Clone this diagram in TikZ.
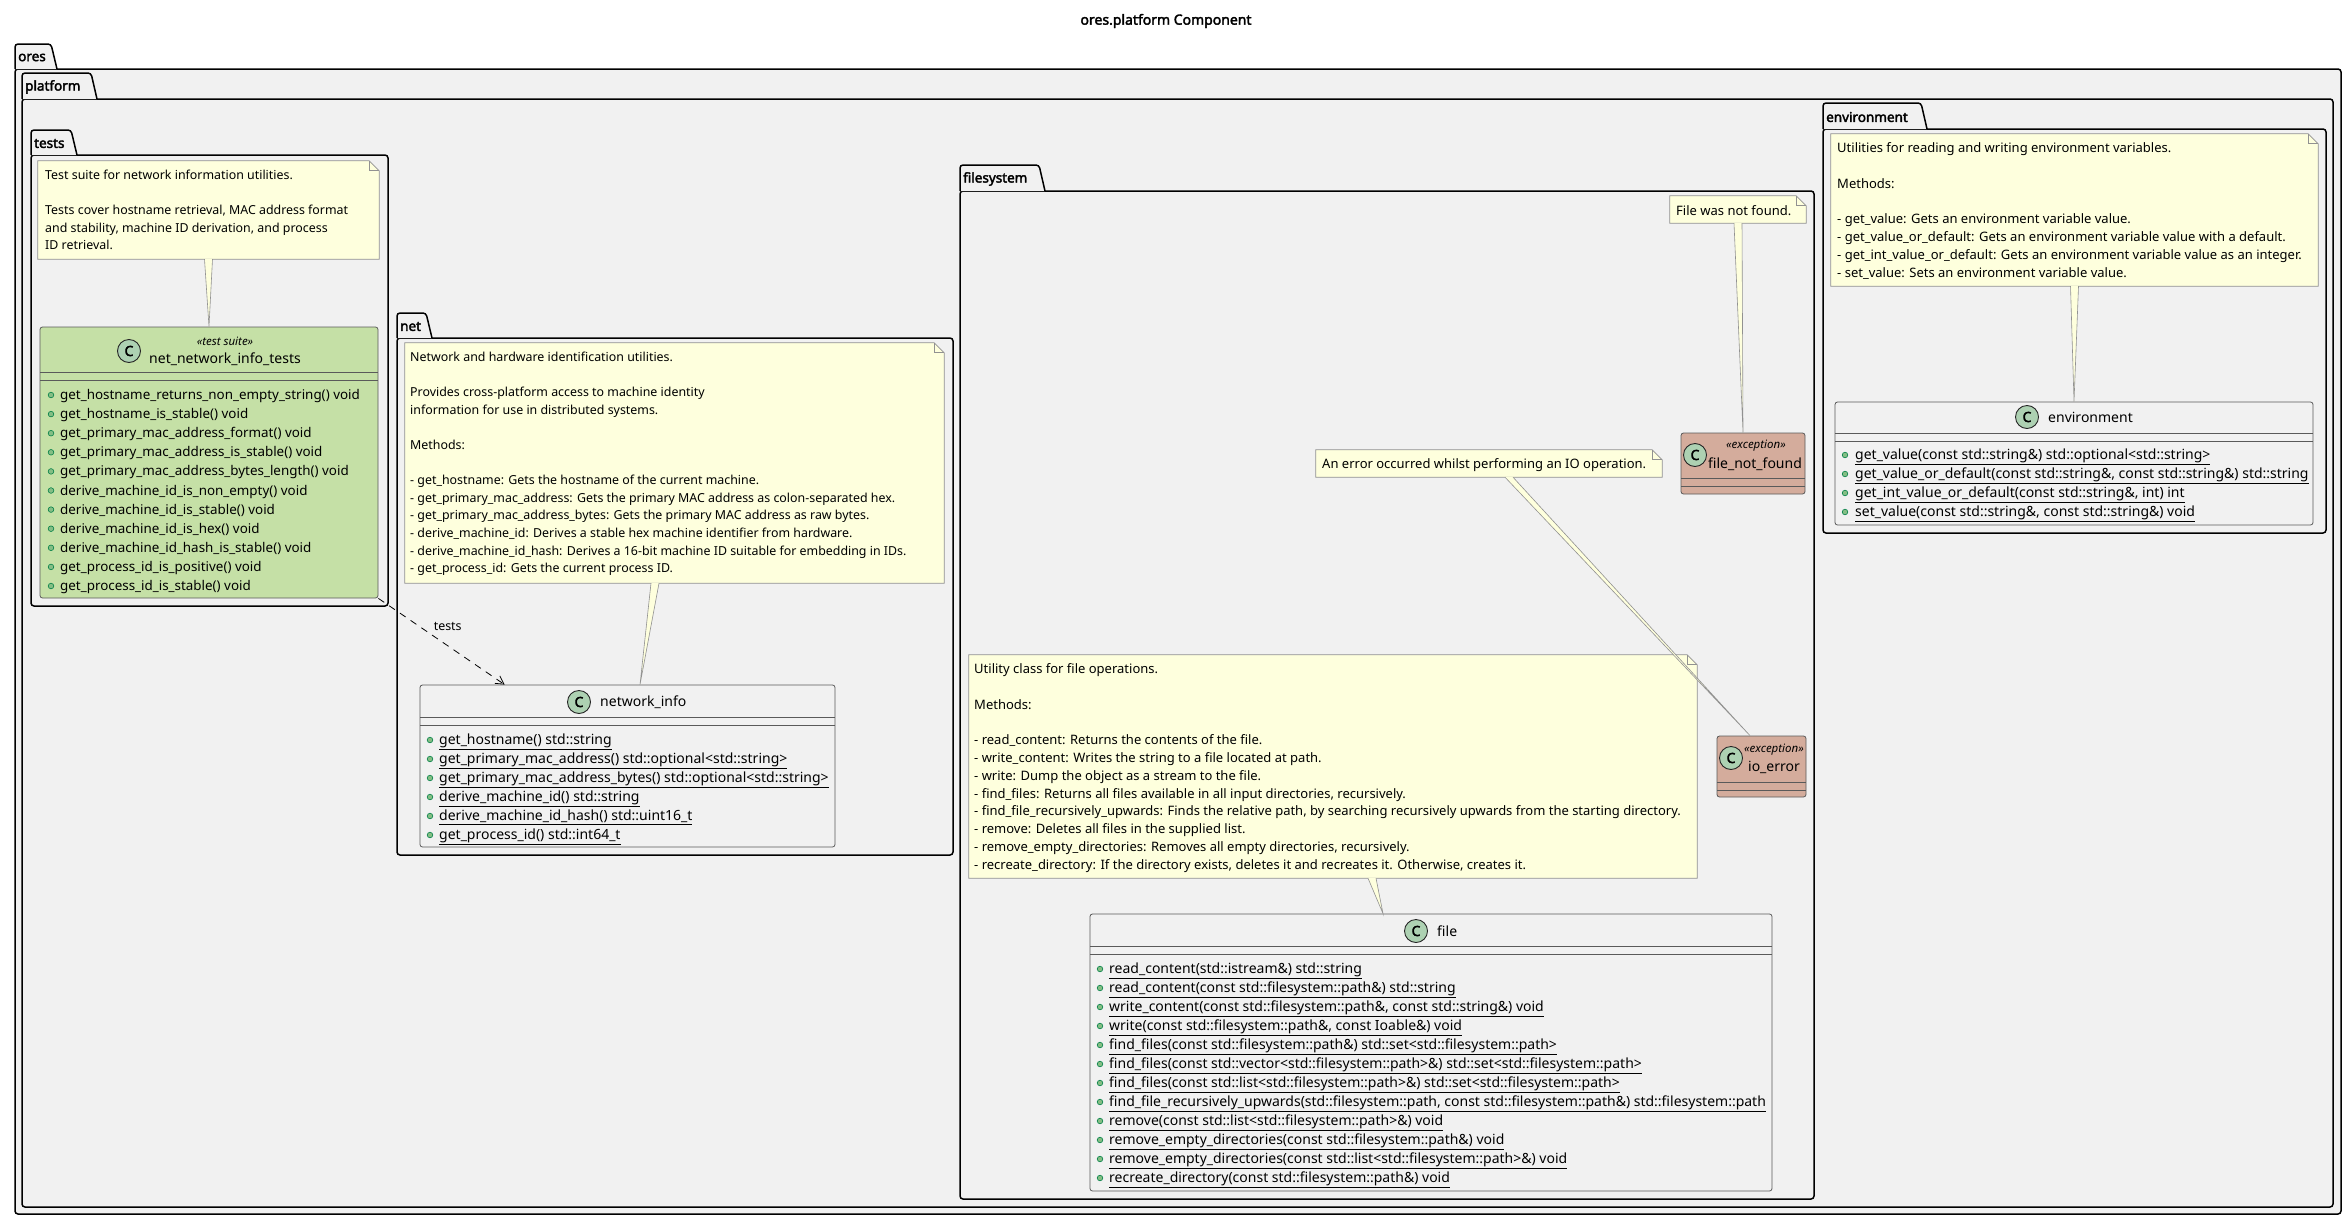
\documentclass[tikz,border=0pt]{standalone}
\usepackage{fontspec}
\setmainfont{Noto Sans}
\newfontfamily\heavyfont{Noto Sans}[FakeBold=2.5]
\usepackage{tikz}
\usetikzlibrary{arrows.meta,positioning,fit}

\definecolor{pkgfill}{RGB}{241,241,241}
\definecolor{notefill}{RGB}{254,255,221}
\definecolor{noteline}{RGB}{145,145,145}
\definecolor{classline}{RGB}{90,90,90}
\definecolor{classfill}{RGB}{241,241,241}
\definecolor{testfill}{RGB}{197,224,166}
\definecolor{excfill}{RGB}{212,172,156}
\definecolor{circfill}{RGB}{173,209,178}
\definecolor{dotfill}{RGB}{132,190,132}
\definecolor{dotline}{RGB}{3,128,72}

\newcommand{\titlefont}{\heavyfont\fontsize{14}{16}\selectfont}
\newcommand{\pkgfont}{\heavyfont\fontsize{13.5}{16}\selectfont}
\newcommand{\notefont}{\fontsize{12.4}{15}\selectfont}
\newcommand{\widenotefont}{\fontsize{13}{15}\selectfont}
\newcommand{\testfont}{\fontsize{13.4}{16}\selectfont}
\newcommand{\memberfont}{\fontsize{14}{16}\selectfont}
\newcommand{\namefont}{\fontsize{14}{16}\selectfont}
\newcommand{\stereofont}{\fontsize{11.5}{13}\selectfont\itshape}
\newcommand{\badgefont}{\heavyfont\fontsize{14}{14}\selectfont}

% package: name, label, left, tab top, body top, tab right, right, bottom
\newcommand{\umlpackage}[8]{%
  \draw[pkgshape] (#3,#5) rectangle (#7,#8);
  \draw[pkgshape] (#3,#5) -- (#3,#4) -- ({#6-6},#4) -- (#6,#5);
  \node[pkglabel, anchor=west] (#1) at ({#3+3},{(#4+#5)/2+1}) {#2};
}
% note with folded corner: name, x1, y1, x2, y2
\newcommand{\umlnote}[5]{%
  \node[fit={(#2,#3) (#4,#5)}, inner sep=0pt] (#1) {};
  \filldraw[noteshape] (#1.south west) -- (#1.north west) -- ([xshift=-10pt]#1.north east)
    -- ([yshift=-10pt]#1.north east) -- (#1.south east) -- cycle;
  \draw[noteshape, fill=none] ([xshift=-10pt]#1.north east) -- ([xshift=-10pt,yshift=-10pt]#1.north east)
    -- ([yshift=-10pt]#1.north east);
}
% class box: name, x1, y1, x2, y2, fill, separator
\newcommand{\umlclass}[7]{%
  \node[fit={(#2,#3) (#4,#5)}, inner sep=0pt, classshape, fill=#6] (#1) {};
  \draw[sepline] (#2,#7) -- (#4,#7) (#2,{#7+8}) -- (#4,{#7+8});
}

\begin{document}
\begin{tikzpicture}[x=1pt, y=-1pt,
    pkgshape/.style={draw=black, line width=1.5pt, fill=pkgfill, rounded corners=3pt},
    pkglabel/.style={inner sep=0pt, font=\pkgfont},
    noteshape/.style={draw=noteline, fill=notefill, line width=0.8pt},
    notetext/.style={anchor=base west, inner sep=0pt, font=\notefont},
    classshape/.style={draw=classline, line width=0.8pt, rounded corners=2.5pt},
    sepline/.style={draw=classline, line width=0.8pt},
    cbadge/.style={circle, draw=black!85, line width=0.9pt, fill=circfill, minimum size=23pt, inner sep=0pt, font=\badgefont},
    clsname/.style={inner sep=0pt, font=\namefont},
    stereo/.style={inner sep=0pt, font=\stereofont},
    member/.style={anchor=base west, inner sep=0pt, font=\memberfont},
    pubdot/.style={draw=dotline, fill=dotfill, line width=0.6pt},
    wedge/.style={draw=noteline, fill=notefill, line width=0.6pt},
    depends/.style={dash pattern=on 7pt off 6pt, line width=0.8pt, -{Straight Barb[length=8pt, width=9pt]}}
]
    \fill[white] (0,0) rectangle (2348,1221);
    \useasboundingbox (0,0) rectangle (2348,1221);

    \node[font=\titlefont] (title) at (1166,21) {ores.platform Component};

    % Packages
    \umlpackage{ores}{ores}{15}{44}{69}{57}{2341}{1214}
    \umlpackage{platform}{platform}{22}{73}{99}{97}{2333}{1207}
    \umlpackage{tests}{tests}{31}{130}{155}{77}{388}{606}
    \umlpackage{net}{net}{397}{313}{338}{432}{953}{855}
    \umlpackage{filesystem}{filesystem}{960}{165}{191}{1045}{1814}{1199}
    \umlpackage{environment}{environment}{1823}{103}{129}{1927}{2326}{533}

    % tests
    \umlnote{testsnote}{38}{161}{379}{259}
    \foreach \t [count=\i] in {Test suite for network information utilities., {},
        {Tests cover hostname retrieval, MAC address format},
        {and stability, machine ID derivation, and process}, ID retrieval.}
      \node[notetext] (testsnote-\i) at (45,{179.5+17.6*(\i-1)}) {\t};

    \umlclass{ttests}{40}{327}{378}{598}{testfill}{372}
    \node[cbadge] (ttests-c) at (129,351) {C};
    \node[stereo] (ttests-st) at (225,341) {«test suite»};
    \node[clsname] (ttests-name) at (225,359) {net\_network\_info\_tests};
    \foreach \m [count=\i] in {get\_hostname\_returns\_non\_empty\_string() void,
        get\_hostname\_is\_stable() void, get\_primary\_mac\_address\_format() void,
        get\_primary\_mac\_address\_is\_stable() void, get\_primary\_mac\_address\_bytes\_length() void,
        derive\_machine\_id\_is\_non\_empty() void, derive\_machine\_id\_is\_stable() void,
        derive\_machine\_id\_is\_hex() void, derive\_machine\_id\_hash\_is\_stable() void,
        get\_process\_id\_is\_positive() void, get\_process\_id\_is\_stable() void} {
      \filldraw[pubdot] (51,{395+19.1*(\i-1)}) circle (2.8pt);
      \node[member, font=\testfont] (ttests-m\i) at (60,{399.5+19.1*(\i-1)}) {\m};
    }

    % net
    \umlnote{netnote}{405}{343}{944}{583}
    \foreach \t [count=\i] in {Network and hardware identification utilities., {},
        Provides cross-platform access to machine identity,
        information for use in distributed systems., {}, Methods:, {},
        - get\_hostname: Gets the hostname of the current machine.,
        - get\_primary\_mac\_address: Gets the primary MAC address as colon-separated hex.,
        - get\_primary\_mac\_address\_bytes: Gets the primary MAC address as raw bytes.,
        - derive\_machine\_id: Derives a stable hex machine identifier from hardware.,
        - derive\_machine\_id\_hash: Derives a 16-bit machine ID suitable for embedding in IDs.,
        - get\_process\_id: Gets the current process ID.}
      \node[notetext] (netnote-\i) at (410,{361.5+17.6*(\i-1)}) {\t};

    \umlclass{netinfo}{420}{685}{835}{847}{classfill}{717}
    \node[cbadge] (netinfo-c) at (579,702) {C};
    \node[clsname, anchor=west] (netinfo-name) at (600,702) {network\_info};
    \foreach \m [count=\i] in {get\_hostname() std::string,
        get\_primary\_mac\_address() std::optional<std::string>,
        get\_primary\_mac\_address\_bytes() std::optional<std::string>,
        derive\_machine\_id() std::string, derive\_machine\_id\_hash() std::uint16\_t,
        get\_process\_id() std::int64\_t} {
      \filldraw[pubdot] (430,{740+19*(\i-1)}) circle (2.8pt);
      \node[member] (netinfo-m\i) at (439,{744.5+19*(\i-1)}) {\underline{\m}};
    }

    % filesystem
    \umlnote{fnfnote}{1670}{196}{1806}{223}
    \node[notetext, font=\widenotefont] (fnfnote-1) at (1676,215.5) {File was not found.};
    \umlclass{fnf}{1681}{433}{1805}{494}{excfill}{478}
    \node[cbadge] (fnf-c) at (1695,455) {C};
    \node[stereo] (fnf-st) at (1756,446) {«exception»};
    \node[clsname] (fnf-name) at (1755,464) {file\_not\_found};

    \umlnote{ionote}{1316}{450}{1662}{477}
    \node[notetext, font=\widenotefont] (ionote-1) at (1322,468.5) {An error occurred whilst performing an IO operation.};
    \umlclass{ioerr}{1717}{736}{1806}{797}{excfill}{782}
    \node[cbadge] (ioerr-c) at (1731,758) {C};
    \node[stereo] (ioerr-st) at (1774,750) {«exception»};
    \node[clsname] (ioerr-name) at (1774,767) {io\_error};

    \umlnote{filenote}{969}{655}{1697}{878}
    \foreach \t [count=\i] in {Utility class for file operations., {}, Methods:, {},
        - read\_content: Returns the contents of the file.,
        - write\_content: Writes the string to a file located at path.,
        - write: Dump the object as a stream to the file.,
        {- find\_files: Returns all files available in all input directories, recursively.},
        {- find\_file\_recursively\_upwards: Finds the relative path, by searching recursively upwards from the starting directory.},
        - remove: Deletes all files in the supplied list.,
        {- remove\_empty\_directories: Removes all empty directories, recursively.},
        {- recreate\_directory: If the directory exists, deletes it and recreates it. Otherwise, creates it.}}
      \node[notetext, font=\widenotefont] (filenote-\i) at (974,{673.5+17.8*(\i-1)}) {\t};

    \umlclass{file}{1090}{914}{1772}{1191}{classfill}{946}
    \node[cbadge] (file-c) at (1416,931) {C};
    \node[clsname, anchor=west] (file-name) at (1437,931) {file};
    \foreach \m [count=\i] in {read\_content(std::istream\&) std::string,
        read\_content(const std::filesystem::path\&) std::string,
        {write\_content(const std::filesystem::path\&, const std::string\&) void},
        {write(const std::filesystem::path\&, const Ioable\&) void},
        find\_files(const std::filesystem::path\&) std::set<std::filesystem::path>,
        find\_files(const std::vector<std::filesystem::path>\&) std::set<std::filesystem::path>,
        find\_files(const std::list<std::filesystem::path>\&) std::set<std::filesystem::path>,
        {find\_file\_recursively\_upwards(std::filesystem::path, const std::filesystem::path\&) std::filesystem::path},
        remove(const std::list<std::filesystem::path>\&) void,
        remove\_empty\_directories(const std::filesystem::path\&) void,
        remove\_empty\_directories(const std::list<std::filesystem::path>\&) void,
        recreate\_directory(const std::filesystem::path\&) void} {
      \filldraw[pubdot] (1100,{969+19*(\i-1)}) circle (2.8pt);
      \node[member] (file-m\i) at (1109,{973.5+19*(\i-1)}) {\underline{\m}};
    }

    % environment
    \umlnote{envnote}{1831}{134}{2318}{286}
    \foreach \t [count=\i] in {Utilities for reading and writing environment variables., {},
        Methods:, {}, - get\_value: Gets an environment variable value.,
        - get\_value\_or\_default: Gets an environment variable value with a default.,
        - get\_int\_value\_or\_default: Gets an environment variable value as an integer.,
        - set\_value: Sets an environment variable value.}
      \node[notetext, font=\widenotefont] (envnote-\i) at (1837,{152.5+17.8*(\i-1)}) {\t};

    \umlclass{environment-cls}{1835}{402}{2313}{525}{classfill}{433}
    \node[cbadge] (env-c) at (2027,417) {C};
    \node[clsname, anchor=west] (env-name) at (2048,417) {environment};
    \foreach \m [count=\i] in {get\_value(const std::string\&) std::optional<std::string>,
        {get\_value\_or\_default(const std::string\&, const std::string\&) std::string},
        {get\_int\_value\_or\_default(const std::string\&, int) int},
        {set\_value(const std::string\&, const std::string\&) void}} {
      \filldraw[pubdot] (1845,{455+19*(\i-1)}) circle (2.8pt);
      \node[member] (env-m\i) at (1855,{459.5+19*(\i-1)}) {\underline{\m}};
    }

    % note links
    \filldraw[wedge] ([xshift=-4pt]testsnote.south) -- (ttests.north) -- ([xshift=4pt]testsnote.south);
    \filldraw[wedge] ([xshift=-23.5pt]netnote.south) -- ([xshift=12.5pt]netinfo.north) -- ([xshift=-15.5pt]netnote.south);
    \filldraw[wedge] ([xshift=-4pt]fnfnote.south) -- (fnf.north) -- ([xshift=4pt]fnfnote.south);
    \filldraw[wedge] ([xshift=35pt]filenote.south) -- ([xshift=-48pt]file.north) -- ([xshift=43pt]filenote.south);
    \filldraw[wedge] ([xshift=-4pt]envnote.south) -- (environment-cls.north) -- ([xshift=4pt]envnote.south);
    \filldraw[wedge] ([xshift=16pt]ionote.south) -- ([xshift=-11.5pt]ioerr.north) -- ([xshift=24pt]ionote.south);

    % dependency
    \draw[depends] (ttests.south east) -- ([xshift=85pt]netinfo.north west)
      node[pos=0.33, anchor=west, xshift=10pt, font=\notefont] (dep-label) {tests};
\end{tikzpicture}
\end{document}
